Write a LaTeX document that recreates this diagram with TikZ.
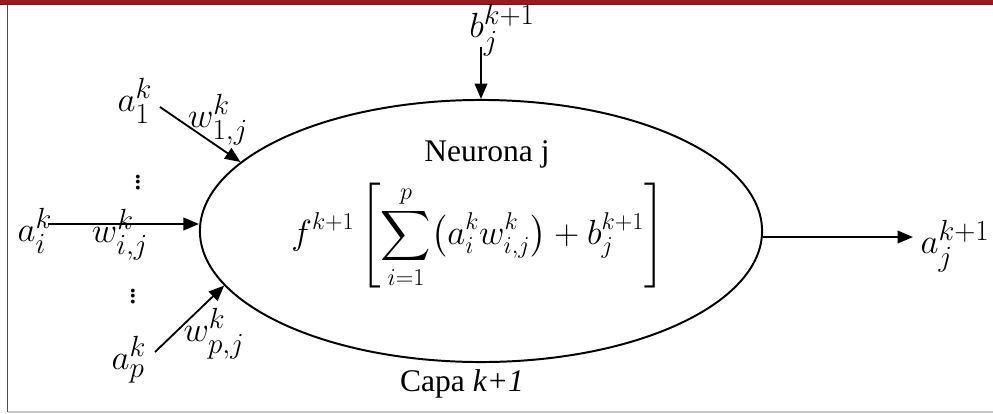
\documentclass[tikz,border=0pt]{standalone}
\usepackage{amsmath}
\usepackage{fontspec}
\setmainfont{Liberation Serif}
\usetikzlibrary{arrows.meta,shapes.geometric}
\definecolor{barred}{RGB}{155,24,34}
\definecolor{framegray}{RGB}{200,200,200}
\begin{document}
\begin{tikzpicture}[x=0.025cm,y=-0.025cm,
  arr/.style={line width=1.3pt,-{Triangle[length=11pt,width=9pt]}},
  mlab/.style={inner sep=0pt,font=\fontsize{28}{32}\selectfont},
  tlab/.style={inner sep=0pt,font=\fontsize{22.4}{26}\selectfont},
  dotlab/.style={inner sep=0pt,font=\fontsize{23}{25}\selectfont}]
\useasboundingbox (0,0) rectangle (993,414);
% frame
\fill[barred] (0,0) rectangle (993,4);
\draw[line width=0.8pt,black!80] (0,4.6) -- (993,4.6);
\draw[line width=0.8pt,black!70] (7.5,5) -- (7.5,412);
\draw[line width=0.8pt,framegray] (7.5,412) -- (993,412);
% neuron
\node[ellipse,draw,line width=1.4pt,minimum width=14.05cm,minimum height=6.55cm,inner sep=0pt] (neuron) at (481,231) {};
\node[tlab] (title) at (487,154) {Neurona j};
\node[inner sep=0pt,font=\fontsize{25}{29}\selectfont] (formula) at (478,236)
  {$\displaystyle f^{k+1}\left[\sum_{i=1}^{p}\bigl(a_i^k w_{i,j}^k\bigr)+b_j^{k+1}\right]$};
\node[tlab] (capa) at (462,384) {Capa \textit{k+1}};
% bias
\node[mlab] (b) at (502,30) {$b_j^{k+1}$};
\coordinate (bs) at (481,47);
\draw[arr] (bs) -- (neuron.north);
% input 1
\node[mlab] (a1) at (135,101) {$a_1^k$};
\node[mlab] (w1) at (218,120) {$w_{1,j}^k$};
\coordinate (s1) at (160,107);
\draw[arr] (s1) -- (neuron.164.1);
\node[dotlab] (d1) at (138,178) {$\vdots$};
% input i
\node[mlab] (ai) at (35,231) {$a_i^k$};
\node[mlab] (wi) at (120,235) {$w_{i,j}^k$};
\coordinate (si) at (48,224);
\draw[arr] (si) -- (si -| neuron.west);
\node[dotlab] (d2) at (133,292) {$\vdots$};
% input p
\node[mlab] (ap) at (129,360) {$a_p^k$};
\node[mlab] (wp) at (214,334) {$w_{p,j}^k$};
\coordinate (sp) at (155,352);
\draw[arr] (sp) -- (neuron.192.7);
% output
\coordinate (so) at (913,237);
\draw[arr] (so -| neuron.east) -- (so);
\node[mlab] (aj) at (955,246) {$a_j^{k+1}$};
\end{tikzpicture}
\end{document}
